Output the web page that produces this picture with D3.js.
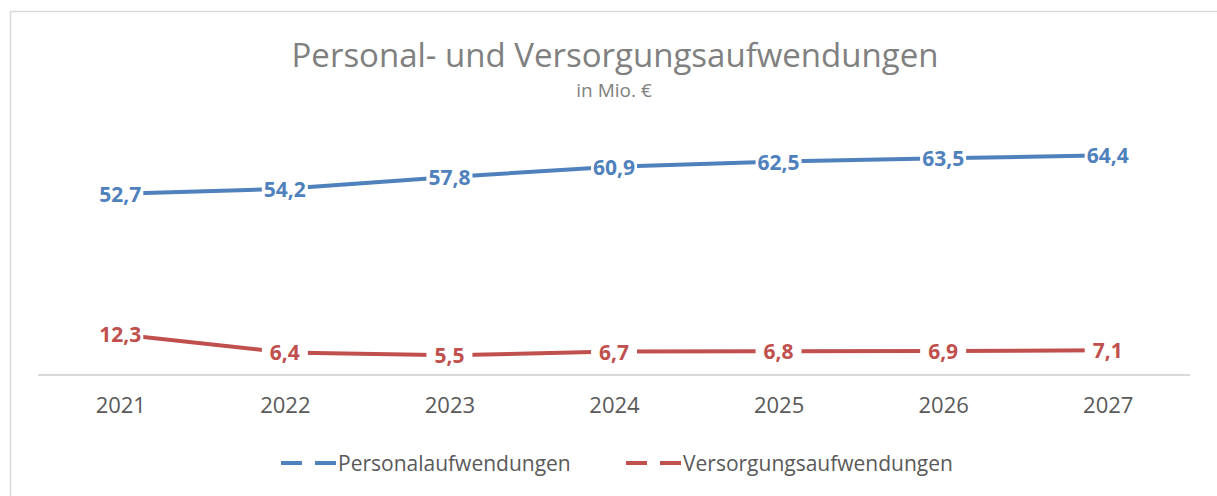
<!DOCTYPE html>
<html lang="de">
<head>
<meta charset="UTF-8">
<title>Personal- und Versorgungsaufwendungen</title>
<style>
  body { margin: 0; background: #fff; font-family: "Open Sans", sans-serif; }
  .title { fill: #808080; font-size: 33px; }
  .subtitle { fill: #808080; font-size: 19px; }
  .xlabel { fill: #595959; font-size: 22px; font-family: "Open Sans", sans-serif; }
  .dlabel { font-size: 21px; font-weight: bold; }
  .legend text { fill: #595959; font-size: 21px; }
</style>
</head>
<body>
<div id="chart"></div>
<script src="https://d3js.org/d3.v7.min.js"></script>
<script>
var years = ['2021', '2022', '2023', '2024', '2025', '2026', '2027'];
var personal = [52.7, 54.2, 57.8, 60.9, 62.5, 63.5, 64.4];
var versorgung = [12.3, 6.4, 5.5, 6.7, 6.8, 6.9, 7.1];
var seriesNames = ['Personalaufwendungen', 'Versorgungsaufwendungen'];
var seriesColors = ['#4f81bd', '#c0504d'];

var width = 1217, height = 496;
var svg = d3.select('#chart').append('svg')
  .attr('width', width)
  .attr('height', height);

// chart frame (only top and left edges are inside the picture)
svg.append('rect')
  .attr('x', 10.5).attr('y', 11.5)
  .attr('width', 1250).attr('height', 600)
  .attr('fill', 'none')
  .attr('stroke', '#d9d9d9')
  .attr('stroke-width', 1.5);

svg.append('text').attr('class', 'title')
  .attr('x', 615).attr('y', 67)
  .attr('text-anchor', 'middle')
  .text('Personal- und Versorgungsaufwendungen');
svg.append('text').attr('class', 'subtitle')
  .attr('x', 614).attr('y', 97)
  .attr('text-anchor', 'middle')
  .text('in Mio. €');

var x = d3.scalePoint().domain(years).range([38, 1190]).padding(0.5);
// the two series sit on separate (hidden) value axes
var yPers = d3.scaleLinear().domain([0, 80]).range([367, 104]);
var yVers = d3.scaleLinear().domain([0, 80]).range([372, 128]);

// category axis
var xAxis = svg.append('g')
  .attr('transform', 'translate(0,375)')
  .call(d3.axisBottom(x).tickSize(0).tickPadding(22));
xAxis.attr('font-family', null).attr('font-size', null);
xAxis.select('.domain')
  .attr('d', 'M38,0H1190')
  .attr('stroke', '#d9d9d9')
  .attr('stroke-width', 2);
xAxis.selectAll('text')
  .attr('class', 'xlabel')
  .attr('fill', null);

var series = [
  { name: seriesNames[0], values: personal, y: yPers, color: seriesColors[0] },
  { name: seriesNames[1], values: versorgung, y: yVers, color: seriesColors[1] }
];

series.forEach(function(s) {
  var line = d3.line()
    .x(function(d, i) { return x(years[i]); })
    .y(function(d) { return s.y(d); });
  svg.append('path')
    .datum(s.values)
    .attr('d', line)
    .attr('fill', 'none')
    .attr('stroke', s.color)
    .attr('stroke-width', 4)
    .attr('stroke-linecap', 'round')
    .attr('stroke-linejoin', 'round');
});

// data labels with white boxes
var fmt = function(v) { return v.toFixed(1).replace('.', ','); };
series.forEach(function(s) {
  var g = svg.append('g');
  s.values.forEach(function(v, i) {
    var cx = x(years[i]), cy = s.y(v);
    var lg = g.append('g');
    var bg = lg.append('rect').attr('fill', '#fff');
    var t = lg.append('text')
      .attr('class', 'dlabel')
      .attr('x', cx).attr('y', cy)
      .attr('text-anchor', 'middle')
      .attr('dominant-baseline', 'central')
      .attr('fill', s.color)
      .text(fmt(v));
    var w = Math.max(t.node().getComputedTextLength() + 4, 46);
    bg.attr('x', cx - w / 2).attr('y', cy - 13)
      .attr('width', w).attr('height', 26);
  });
});

// legend
var legendPos = [281, 626];
var legend = svg.append('g').attr('class', 'legend');
series.forEach(function(s, i) {
  var lx = legendPos[i];
  legend.append('line')
    .attr('x1', lx).attr('x2', lx + 55)
    .attr('y1', 463).attr('y2', 463)
    .attr('stroke', s.color)
    .attr('stroke-width', 4)
    .attr('stroke-dasharray', '21,13');
  legend.append('text')
    .attr('x', lx + 57).attr('y', 463)
    .attr('dominant-baseline', 'central')
    .text(s.name);
});
</script>
</body>
</html>
